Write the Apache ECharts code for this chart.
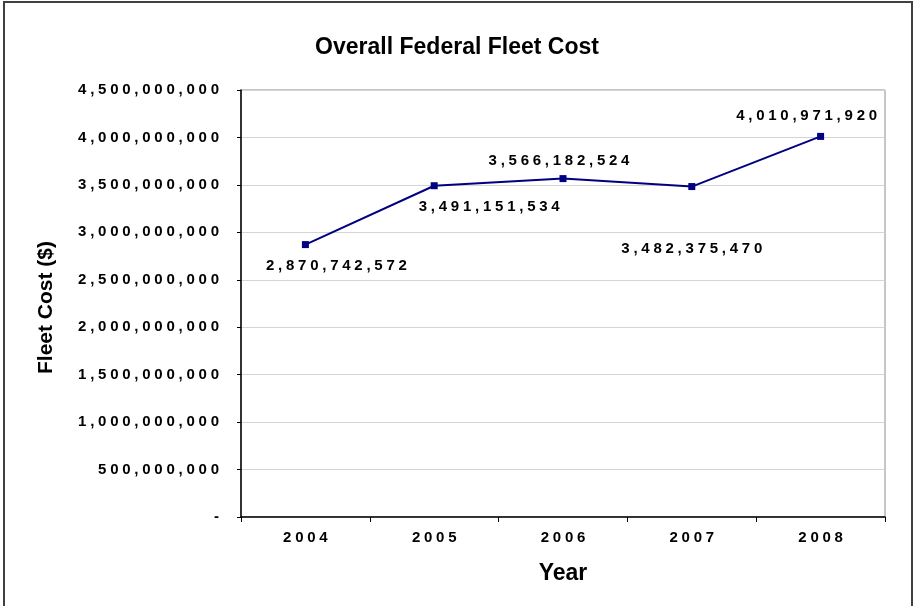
<!DOCTYPE html>
<html>
<head>
<meta charset="utf-8">
<script src="https://cdn.jsdelivr.net/npm/echarts@6/dist/echarts.min.js"></script>
<style>
  html, body { margin: 0; padding: 0; background: #fff; }
  #chart { width: 914px; height: 606px; }
</style>
</head>
<body>
<div id="chart"></div>
<script>
// chart data
const years = ['2004', '2005', '2006', '2007', '2008']
const fleetCost = [2870742572, 3491151534, 3566182524, 3482375470, 4010971920]
// where each value label sits, how far from the point, and its sideways shift
const labelPos = ['bottom', 'bottom', 'top', 'bottom', 'top']
const labelGap = [10, 10, 7, 51, 10]
const labelShift = [31, 55, -4, 0, -14]

// 文字加宽 (the original has wide letter spacing)
const GAP = '\u2005'
function spaced(s) {
  return String(s).split('').join(GAP)
}
function fmt(v) {
  if (v === 0) return '-'
  return spaced(v.toLocaleString('en-US'))
}

const font = '"Liberation Sans", Arial, sans-serif'
const chart = echarts.init(document.getElementById('chart'))

const option = {
  animation: false,
  backgroundColor: '#fff',
  title: {
    text: 'Overall Federal Fleet Cost',
    left: 'center',
    top: 31,
    textStyle: { fontFamily: font, fontSize: 23, fontWeight: 'bold', color: '#000' }
  },
  graphic: [
    {
      type: 'rect',
      shape: { x: 4, y: 2, width: 908, height: 610 },
      style: { fill: 'none', stroke: '#404040', lineWidth: 2 },
      silent: true
    }
  ],
  grid: {
    left: 241,
    right: 29,
    top: 90,
    bottom: 89,
    show: true,
    borderColor: '#8c8c8c',
    borderWidth: 1
  },
  xAxis: {
    type: 'category',
    data: years,
    boundaryGap: true,
    name: 'Year',
    nameLocation: 'middle',
    nameGap: 45,
    nameTextStyle: { fontFamily: font, fontSize: 23, fontWeight: 'bold', color: '#000' },
    axisLine: { lineStyle: { color: '#000', width: 1.5 } },
    axisTick: { show: true, length: 5, lineStyle: { color: '#000' } },
    axisLabel: {
      margin: 13,
      fontFamily: font,
      fontSize: 15,
      fontWeight: 'bold',
      color: '#000',
      formatter: v => spaced(v)
    },
    splitLine: { show: false }
  },
  yAxis: {
    type: 'value',
    min: 0,
    max: 4500000000,
    interval: 500000000,
    name: 'Fleet Cost ($)',
    nameLocation: 'middle',
    nameGap: 184,
    nameRotate: 90,
    nameTextStyle: {
      fontFamily: font,
      fontSize: 21,
      fontWeight: 'bold',
      color: '#000',
      padding: [0, 8, 0, 0]
    },
    axisLine: { show: true, lineStyle: { color: '#000', width: 1.5 } },
    axisTick: { show: true, length: 4, lineStyle: { color: '#000' } },
    axisLabel: {
      margin: 22,
      fontFamily: font,
      fontSize: 15,
      fontWeight: 'bold',
      color: '#000',
      formatter: fmt
    },
    splitLine: { show: true, lineStyle: { color: '#d4d4d4', width: 1 } }
  },
  series: [
    {
      type: 'line',
      data: fleetCost.map((v, i) => ({
        value: v,
        label: { position: labelPos[i], distance: labelGap[i], offset: [labelShift[i], 0] }
      })),
      symbol: 'rect',
      symbolSize: 7,
      lineStyle: { color: '#000080', width: 2 },
      itemStyle: { color: '#000080' },
      label: {
        show: true,
        fontFamily: font,
        fontSize: 15,
        fontWeight: 'bold',
        color: '#000',
        formatter: p => fmt(p.value)
      }
    }
  ]
}

chart.setOption(option)
</script>
</body>
</html>
